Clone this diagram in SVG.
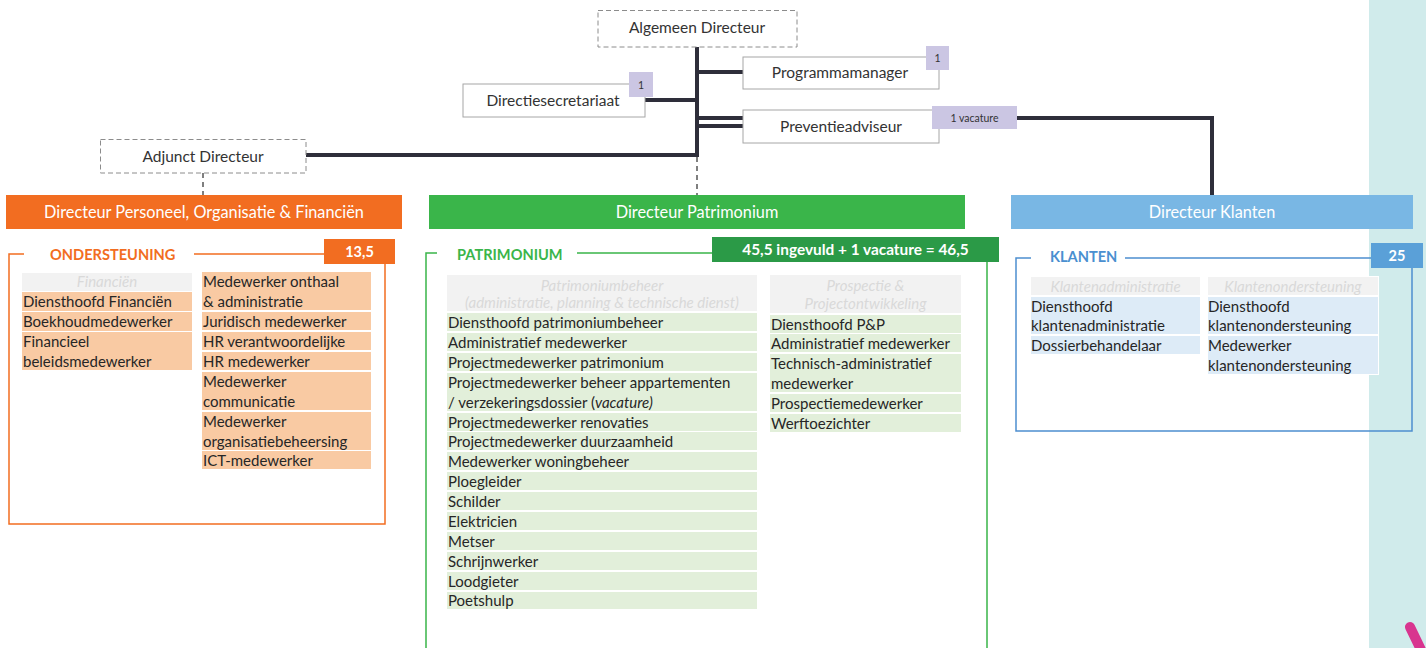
<svg xmlns="http://www.w3.org/2000/svg" width="1426" height="648" viewBox="0 0 1426 648">
<style>
text{font-family:Lato,"Liberation Sans",sans-serif;}
.box{fill:#fff;stroke:#a6a6a6;stroke-width:1}
.dbox{fill:#fff;stroke:#8c8c8c;stroke-width:1;stroke-dasharray:5,3}
.bt{font-size:15.5px;fill:#333;text-anchor:middle}
.badge{fill:#cbc6e3}
.bdt{font-size:10.5px;fill:#333;text-anchor:middle}
.conn{stroke:#2e2e3a;stroke-width:4;fill:none}
.dash{stroke:#555;stroke-width:1.5;fill:none;stroke-dasharray:5,4}
.bar{font-size:16.3px;fill:#fff;text-anchor:middle}
.row{font-size:15px;fill:#262626}
.hd{fill:#f2f2f2}
.hdt{font-size:15px;fill:#d9d9d9;font-style:italic;text-anchor:middle}
.or{fill:#f9caa3}
.gr{fill:#e2efda}
.bl{fill:#ddebf7}
.sec{font-size:14.6px;font-weight:bold}
.num{font-size:14.5px;font-weight:bold;fill:#fff;text-anchor:middle}
</style>
<rect x="1369" y="0" width="57" height="648" fill="#d0ebeb"/>
<line x1="1410" y1="627" x2="1424" y2="656" stroke="#d8358f" stroke-width="10" stroke-linecap="round"/>

<g id="connectors">
<path class="conn" d="M697,47 V157"/>
<path class="conn" d="M697,72 H743"/>
<path class="conn" d="M645,100 H697"/>
<path class="conn" d="M697,118 H743"/>
<path class="conn" d="M697,126 H743"/>
<path class="conn" d="M1017,118 H1212 V195"/>
<path class="conn" d="M306,155 H699"/>
<path class="dash" d="M697,157 V195"/>
<path class="dash" d="M203,173 V195"/>
</g>

<g id="algemeen-directeur">
<rect class="dbox" x="598" y="10.5" width="199" height="36.5"/>
<text class="bt" x="697" y="33">Algemeen Directeur</text>
</g>
<g id="programmamanager">
<rect class="box" x="743" y="57" width="196" height="32"/>
<text class="bt" x="840" y="78">Programmamanager</text>
<rect class="badge" x="926" y="46" width="23" height="24"/>
<text class="bdt" x="937.5" y="62">1</text>
</g>
<g id="directiesecretariaat">
<rect class="box" x="463" y="84" width="182" height="33"/>
<text class="bt" x="553" y="106">Directiesecretariaat</text>
<rect class="badge" x="629" y="72" width="24" height="25"/>
<text class="bdt" x="641" y="89">1</text>
</g>
<g id="preventieadviseur">
<rect class="box" x="743" y="110" width="196" height="33"/>
<text class="bt" x="841" y="132">Preventieadviseur</text>
<rect class="badge" x="932" y="106" width="85" height="23"/>
<text class="bdt" x="974.5" y="122">1 vacature</text>
</g>
<g id="adjunct-directeur">
<rect class="dbox" x="100.5" y="139.5" width="205.5" height="33.5"/>
<text class="bt" x="203" y="162">Adjunct Directeur</text>
</g>

<g id="directeur-pof">
<rect x="6" y="195" width="396" height="34" fill="#f26d21"/>
<text class="bar" x="204" y="217.5">Directeur Personeel, Organisatie &amp; Financiën</text>
</g>
<g id="directeur-patrimonium">
<rect x="429" y="195" width="536" height="34" fill="#3ab54a"/>
<text class="bar" x="697" y="217.5">Directeur Patrimonium</text>
</g>
<g id="directeur-klanten">
<rect x="1011" y="195" width="402" height="34" fill="#79b7e4"/>
<text class="bar" x="1212" y="217.5">Directeur Klanten</text>
</g>

<g id="ondersteuning">
<path d="M24,254 H9 V524 H385 V264 M194,254 H324" fill="none" stroke="#f26d21" stroke-width="1.5"/>
<text class="sec" x="50" y="259.5" fill="#f26d21">ONDERSTEUNING</text>
<rect x="324" y="239" width="71" height="25" fill="#f26d21"/>
<text class="num" x="359.5" y="256.5">13,5</text>
<rect class="hd" x="22" y="273" width="170" height="18"/>
<text class="hdt" x="107" y="287">Financiën</text>
<rect class="or" x="22" y="292" width="170" height="19"/>
<text class="row" x="23" y="307">Diensthoofd Financiën</text>
<rect class="or" x="22" y="312" width="170" height="19"/>
<text class="row" x="23" y="327">Boekhoudmedewerker</text>
<rect class="or" x="22" y="332" width="170" height="38"/>
<text class="row" x="23" y="347">Financieel</text>
<text class="row" x="23" y="367">beleidsmedewerker</text>
<rect class="or" x="202" y="272" width="169" height="38"/>
<text class="row" x="203" y="287">Medewerker onthaal</text>
<text class="row" x="203" y="307">&amp; administratie</text>
<rect class="or" x="202" y="312" width="169" height="18"/>
<text class="row" x="203" y="327">Juridisch medewerker</text>
<rect class="or" x="202" y="332" width="169" height="18"/>
<text class="row" x="203" y="347">HR verantwoordelijke</text>
<rect class="or" x="202" y="352" width="169" height="18"/>
<text class="row" x="203" y="367">HR medewerker</text>
<rect class="or" x="202" y="372" width="169" height="38"/>
<text class="row" x="203" y="387">Medewerker</text>
<text class="row" x="203" y="407">communicatie</text>
<rect class="or" x="202" y="412" width="169" height="38"/>
<text class="row" x="203" y="427">Medewerker</text>
<text class="row" x="203" y="447">organisatiebeheersing</text>
<rect class="or" x="202" y="451" width="169" height="18"/>
<text class="row" x="203" y="466">ICT-medewerker</text>
</g>

<g id="patrimonium">
<path d="M437,253 H426 V648 M577,253 H712 M987,262 V648" fill="none" stroke="#3ab54a" stroke-width="1.5"/>
<text class="sec" x="457" y="259.5" fill="#3ab54a">PATRIMONIUM</text>
<rect x="712" y="237" width="287" height="25" fill="#2b9a47"/>
<text class="num" x="855.5" y="255" style="font-size:15.4px">45,5 ingevuld + 1 vacature = 46,5</text>
<rect class="hd" x="447" y="275" width="310" height="36"/>
<text class="hdt" x="602" y="291">Patrimoniumbeheer</text>
<text class="hdt" x="602" y="308">(administratie, planning &amp; technische dienst)</text>
<rect class="gr" x="447" y="313" width="310" height="18"/>
<text class="row" x="448" y="328">Diensthoofd patrimoniumbeheer</text>
<rect class="gr" x="447" y="333" width="310" height="18"/>
<text class="row" x="448" y="348">Administratief medewerker</text>
<rect class="gr" x="447" y="353" width="310" height="18"/>
<text class="row" x="448" y="368">Projectmedewerker patrimonium</text>
<rect class="gr" x="447" y="373" width="310" height="38"/>
<text class="row" x="448" y="388">Projectmedewerker beheer appartementen</text>
<text class="row" x="448" y="408">/ verzekeringsdossier (<tspan font-style="italic">vacature)</tspan></text>
<rect class="gr" x="447" y="413" width="310" height="18"/>
<text class="row" x="448" y="428">Projectmedewerker renovaties</text>
<rect class="gr" x="447" y="432" width="310" height="18"/>
<text class="row" x="448" y="447">Projectmedewerker duurzaamheid</text>
<rect class="gr" x="447" y="452" width="310" height="18"/>
<text class="row" x="448" y="467">Medewerker woningbeheer</text>
<rect class="gr" x="447" y="472" width="310" height="18"/>
<text class="row" x="448" y="487">Ploegleider</text>
<rect class="gr" x="447" y="492" width="310" height="18"/>
<text class="row" x="448" y="507">Schilder</text>
<rect class="gr" x="447" y="512" width="310" height="18"/>
<text class="row" x="448" y="527">Elektricien</text>
<rect class="gr" x="447" y="532" width="310" height="18"/>
<text class="row" x="448" y="547">Metser</text>
<rect class="gr" x="447" y="552" width="310" height="18"/>
<text class="row" x="448" y="567">Schrijnwerker</text>
<rect class="gr" x="447" y="572" width="310" height="18"/>
<text class="row" x="448" y="587">Loodgieter</text>
<rect class="gr" x="447" y="592" width="310" height="17"/>
<text class="row" x="448" y="606">Poetshulp</text>
<rect class="hd" x="770" y="275" width="191" height="38"/>
<text class="hdt" x="865.5" y="291">Prospectie &amp;</text>
<text class="hdt" x="865.5" y="309">Projectontwikkeling</text>
<rect class="gr" x="770" y="315" width="191" height="18"/>
<text class="row" x="771" y="330">Diensthoofd P&amp;P</text>
<rect class="gr" x="770" y="334" width="191" height="18"/>
<text class="row" x="771" y="349">Administratief medewerker</text>
<rect class="gr" x="770" y="354" width="191" height="38"/>
<text class="row" x="771" y="369">Technisch-administratief</text>
<text class="row" x="771" y="389">medewerker</text>
<rect class="gr" x="770" y="394" width="191" height="18"/>
<text class="row" x="771" y="409">Prospectiemedewerker</text>
<rect class="gr" x="770" y="414" width="191" height="18"/>
<text class="row" x="771" y="429">Werftoezichter</text>
</g>

<g id="klanten">
<path d="M1031,258 H1016 V431 H1412 V268 M1125,258 H1371" fill="none" stroke="#4d8fcf" stroke-width="1.5"/>
<text class="sec" x="1050" y="262" fill="#4a8fd0">KLANTEN</text>
<rect x="1371" y="243" width="52" height="25" fill="#5aa0d8"/>
<text class="num" x="1397" y="261">25</text>
<rect class="hd" x="1031" y="277" width="169" height="18"/>
<text class="hdt" x="1115.5" y="292">Klantenadministratie</text>
<rect class="bl" x="1031" y="297" width="169" height="37"/>
<text class="row" x="1031" y="312">Diensthoofd</text>
<text class="row" x="1031" y="331">klantenadministratie</text>
<rect class="bl" x="1031" y="336" width="169" height="18"/>
<text class="row" x="1031" y="351">Dossierbehandelaar</text>
<rect x="1207" y="276" width="172" height="99" fill="#fff"/>
<rect class="hd" x="1208" y="277" width="170" height="18"/>
<text class="hdt" x="1293" y="292">Klantenondersteuning</text>
<rect class="bl" x="1208" y="297" width="170" height="37"/>
<text class="row" x="1208" y="312">Diensthoofd</text>
<text class="row" x="1208" y="331">klantenondersteuning</text>
<rect class="bl" x="1208" y="336" width="170" height="38"/>
<text class="row" x="1208" y="351">Medewerker</text>
<text class="row" x="1208" y="371">klantenondersteuning</text>
</g>
</svg>
